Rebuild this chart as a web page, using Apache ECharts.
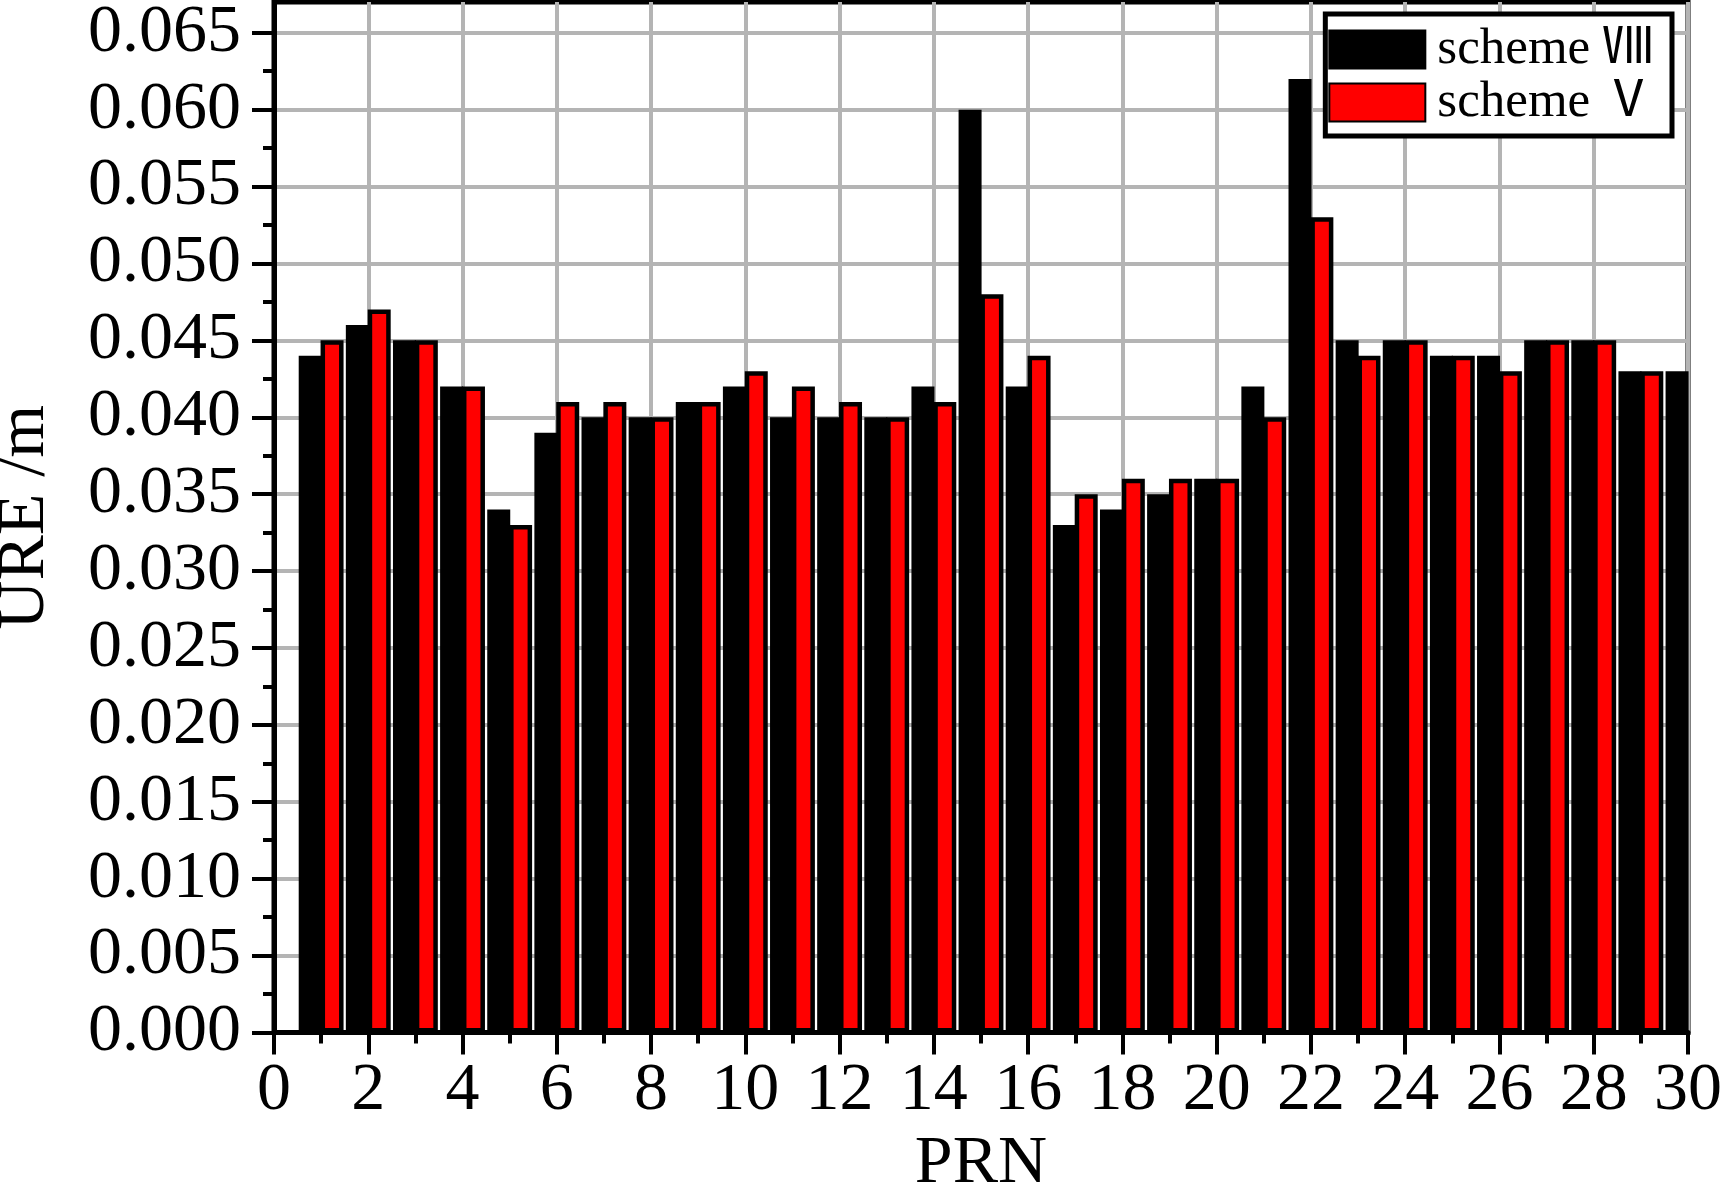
<!DOCTYPE html>
<html>
<head>
<meta charset="utf-8">
<script src="https://cdn.jsdelivr.net/npm/echarts@6/dist/echarts.min.js"></script>
<style>
  html, body { margin: 0; padding: 0; background: #fff; }
  #chart { width: 1722px; height: 1190px; }
</style>
</head>
<body>
<div id="chart"></div>
<script>
// PRN numbers and URE values (m)
var prn = [1, 2, 3, 4, 5, 6, 7, 8, 9, 10, 11, 12, 13, 14, 15,
           16, 17, 18, 19, 20, 21, 22, 23, 24, 25, 26, 27, 28, 29, 30];
var scheme8 = [0.044, 0.046, 0.045, 0.042, 0.034, 0.039, 0.040, 0.040, 0.041, 0.042,
               0.040, 0.040, 0.040, 0.042, 0.060, 0.042, 0.033, 0.034, 0.035, 0.036,
               0.042, 0.062, 0.045, 0.045, 0.044, 0.044, 0.045, 0.045, 0.043, 0.043];
var scheme5 = [0.045, 0.047, 0.045, 0.042, 0.033, 0.041, 0.041, 0.040, 0.041, 0.043,
               0.042, 0.041, 0.040, 0.041, 0.048, 0.044, 0.035, 0.036, 0.036, 0.036,
               0.040, 0.053, 0.044, 0.045, 0.044, 0.043, 0.045, 0.045, 0.043];
var yTicks = [0, 0.005, 0.010, 0.015, 0.020, 0.025, 0.030, 0.035,
              0.040, 0.045, 0.050, 0.055, 0.060, 0.065];
var seriesNames = ['scheme Ⅷ', 'scheme Ⅴ'];

var font = "'Liberation Serif', 'Times New Roman', 'Noto Sans CJK SC', serif";

function pairs(vals) {
    return vals.map(function (v, i) { return [prn[i], v]; });
}

var myChart = echarts.init(document.getElementById('chart'));

var option = {
    backgroundColor: '#fff',
    animation: false,
    grid: {
        left: 274,
        right: 34,
        top: 2,
        bottom: 157.5,
        outerBoundsMode: 'none',
        containLabel: false,
        show: true,
        borderColor: '#000',
        borderWidth: 5
    },
    legend: {
        orient: 'vertical',
        right: 50,
        top: 14,
        icon: 'rect',
        itemWidth: 96,
        itemHeight: 38,
        itemGap: 2,
        padding: [10, 18, 8, 3],
        backgroundColor: '#fff',
        borderColor: '#000',
        borderWidth: 5,
        textStyle: {
            fontFamily: font, fontSize: 51, color: '#000',
            padding: [0, 0, 0, 7]
        },
        data: seriesNames
    },
    xAxis: {
        type: 'value',
        min: 0,
        max: 30,
        interval: 2,
        name: 'PRN',
        nameLocation: 'middle',
        nameGap: 98,
        nameTextStyle: { fontFamily: font, fontSize: 68, color: '#000' },
        axisLine: { lineStyle: { color: '#000', width: 5 } },
        axisTick: { length: 22, lineStyle: { color: '#000', width: 4 } },
        minorTick: { show: true, splitNumber: 2, length: 11, lineStyle: { color: '#000', width: 4 } },
        axisLabel: { fontFamily: font, fontSize: 68, color: '#000', margin: 25 },
        splitLine: { show: true, lineStyle: { color: '#b4b4b4', width: 4 } }
    },
    yAxis: {
        type: 'value',
        min: 0,
        max: 0.067,
        interval: 0.005,
        name: 'URE /m',
        nameLocation: 'middle',
        nameGap: 215,
        nameTextStyle: { fontFamily: font, fontSize: 68, color: '#000' },
        axisLine: { lineStyle: { color: '#000', width: 5 } },
        axisTick: { length: 22, customValues: yTicks, lineStyle: { color: '#000', width: 4 } },
        minorTick: { show: true, splitNumber: 2, length: 11, lineStyle: { color: '#000', width: 4 } },
        axisLabel: {
            customValues: yTicks,
            fontFamily: font, fontSize: 68, color: '#000', margin: 33,
            formatter: function (v) { return v.toFixed(3); }
        },
        splitLine: { show: true, lineStyle: { color: '#b4b4b4', width: 4 } }
    },
    series: [
        {
            name: seriesNames[0],
            type: 'bar',
            data: pairs(scheme8),
            barWidth: 23,
            barGap: '-5%',
            itemStyle: { color: '#000', borderColor: '#000', borderWidth: 4.5 }
        },
        {
            name: seriesNames[1],
            type: 'bar',
            data: pairs(scheme5),
            barWidth: 23,
            barGap: '-5%',
            itemStyle: { color: '#ff0000', borderColor: '#000', borderWidth: 4.5 }
        }
    ]
};

myChart.setOption(option);
window.addEventListener('resize', function () {
    myChart.resize();
});
</script>
</body>
</html>
